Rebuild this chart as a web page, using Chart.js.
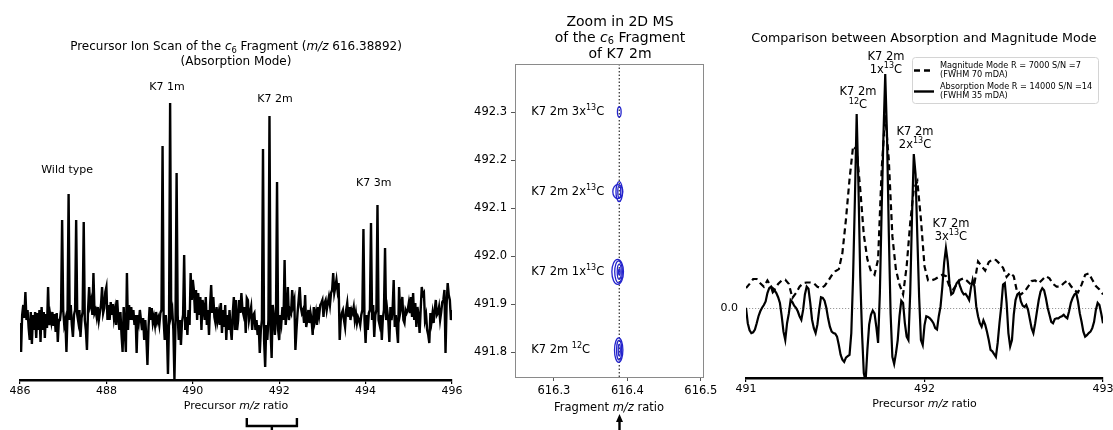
<!DOCTYPE html>
<html><head><meta charset="utf-8">
<script src="https://cdn.jsdelivr.net/npm/chart.js@4.4.1/dist/chart.umd.min.js"></script>
<style>
html,body{margin:0;padding:0;background:#fff;}
#wrap{position:relative;width:1113px;height:430px;overflow:hidden;background:#fff;}
canvas{position:absolute;top:0;}
</style></head><body>
<div id="wrap">
<canvas id="c1" width="465" height="430" style="left:0px;width:465px;height:430px"></canvas>
<canvas id="c3" width="408" height="430" style="left:705px;width:408px;height:430px"></canvas>
<canvas id="c2" width="262" height="430" style="left:465px;width:262px;height:430px"></canvas>
</div>
<script>
const FONT = '"DejaVu Sans", "Liberation Sans", sans-serif';
Chart.defaults.font.family = FONT;
Chart.defaults.color = '#000';

/* ---------- Panel 1: precursor ion scan (absorption mode) ---------- */
const scanStart = 486;
const scanStep = 0.025;
const scanIntensity = [
 5.7,2.8,6.5,7.5,6.2,8.8,6.0,7.0,5.2,4.0,6.8,3.6,6.5,5.0,6.8,4.2,6.7,5.0,7.0,3.8,
 7.3,5.0,6.8,4.2,6.6,5.2,9.3,5.5,6.5,5.8,6.8,5.4,6.6,4.8,6.7,3.8,6.0,6.0,7.0,16.0,
 7.0,5.5,6.0,2.8,6.5,18.6,6.0,7.5,5.5,4.3,6.5,7.0,16.0,6.5,5.8,7.0,4.3,6.2,6.8,15.8,
 6.0,5.0,3.0,7.0,9.3,7.5,8.0,6.5,10.7,6.7,7.0,6.3,7.3,6.0,6.8,7.5,9.3,6.7,7.2,8.8,
 9.3,6.0,7.5,6.0,7.8,6.5,7.6,6.2,7.0,5.5,8.0,6.2,5.0,6.8,4.5,2.8,7.3,5.0,2.8,10.7,
 5.0,7.5,6.0,7.3,6.0,7.0,5.5,6.5,2.7,6.5,5.8,7.0,6.0,5.0,6.2,4.0,6.0,4.3,1.5,5.3,
 7.3,6.0,7.2,5.7,6.3,5.5,6.8,5.8,6.2,5.5,6.7,7.0,23.4,6.0,4.0,6.5,5.0,0.6,6.0,27.7,
 6.5,7.0,5.0,0.0,6.0,20.7,6.5,4.0,6.0,3.5,5.8,6.5,12.5,5.0,6.3,4.5,7.0,5.5,10.7,8.0,
 10.0,9.0,6.7,9.0,6.0,8.7,6.5,8.3,5.0,8.0,7.3,6.0,8.3,5.5,7.0,4.5,7.5,9.5,6.7,8.3,
 6.3,5.7,7.3,6.0,6.7,5.5,7.7,4.7,7.0,5.3,7.5,4.0,6.5,5.0,7.0,5.2,4.0,6.7,8.3,5.0,
 8.0,5.0,6.0,8.0,6.7,8.7,7.0,6.5,7.3,4.7,8.2,8.0,6.0,6.7,7.3,5.0,6.5,6.7,5.0,6.0,
 4.5,5.5,2.7,5.0,6.0,23.1,4.0,1.3,5.5,4.0,6.0,26.4,5.0,2.2,7.5,6.5,4.5,6.0,19.8,5.0,
 4.0,6.5,5.7,7.3,6.0,12.0,5.5,6.8,9.3,6.0,7.0,6.7,9.0,7.5,8.0,3.0,5.0,6.7,8.0,9.3,
 7.3,6.7,7.0,5.7,8.5,5.3,6.0,7.0,5.7,6.7,6.0,4.5,7.3,6.0,6.7,5.5,7.3,6.5,7.5,7.7,
 8.0,6.3,7.7,8.0,7.0,7.7,8.3,7.5,8.7,9.0,10.7,8.7,9.3,10.0,9.0,9.7,4.0,6.0,6.7,7.0,
 6.0,5.3,7.0,7.7,6.3,7.3,6.0,7.0,6.7,7.3,6.0,6.7,5.7,6.3,6.0,5.5,6.5,7.0,15.1,6.0,
 3.7,6.5,5.0,6.7,7.0,15.7,6.0,7.5,4.3,6.5,7.0,17.5,6.0,5.5,6.5,4.0,6.2,7.0,13.2,6.0,
 7.0,6.0,3.8,7.3,6.0,7.0,10.0,5.3,6.5,5.0,3.7,9.3,6.7,7.3,8.3,6.0,5.7,7.0,6.7,7.0,
 7.7,6.7,8.3,6.3,8.7,6.0,7.7,5.3,7.3,6.5,4.7,7.0,9.3,8.5,8.7,6.0,6.5,5.0,4.5,3.7,
 6.7,5.8,6.7,5.7,7.0,8.0,6.5,6.7,7.3,6.0,6.8,7.8,8.0,9.0,2.7,7.5,9.7,8.5,8.0,6.0,7.0
];
const scanPeakNames = ['Wild type', 'K7 1m', 'K7 2m', 'K7 3m'];
const scanPeakNameMz = [487.09, 489.40, 491.90, 494.19];
const scanPeakNameLevel = [21.0, 29.3, 28.1, 19.7];
const zoomWindow = [491.25, 492.41];

/* ---------- Panel 2: 2D MS zoom ---------- */
const fragmentMz = 616.38892;
const isotopeNames = ['3x', '2x', '1x', ''];
const isotopeSup = ['13', '13', '13', '12'];
const isotopePrecursor = [492.300, 492.134, 491.967, 491.804];
const contourMz   = [616.3890, 616.3870, 616.3889, 616.3890, 616.3868, 616.3880, 616.3889, 616.3890, 616.3882, 616.3888, 616.3890];
const contourPrec = [492.300, 492.134, 492.134, 492.134, 491.967, 491.967, 491.967, 491.967, 491.804, 491.804, 491.804];
const contourHalfMz   = [0.0025, 0.0068, 0.0044, 0.0020, 0.0079, 0.0052, 0.0027, 0.0010, 0.0057, 0.0035, 0.0014];
const contourHalfPrec = [0.0104, 0.0146, 0.0208, 0.0125, 0.0260, 0.0229, 0.0156, 0.0063, 0.0256, 0.0208, 0.0125];

/* ---------- Panel 3: absorption vs magnitude ---------- */
const cmpStart = 491;
const absStep = 0.01;
const magStep = 0.02;
const absorptionIntensity = [
 0.00,-0.22,-0.32,-0.36,-0.35,-0.31,-0.22,-0.12,-0.05,0.00,
 0.04,0.09,0.21,0.28,0.30,0.22,0.25,0.21,0.15,0.07,
 -0.12,-0.34,-0.46,-0.22,-0.08,0.11,0.08,0.03,0.00,-0.05,
 -0.12,-0.17,-0.03,0.19,0.30,0.27,0.07,-0.17,-0.29,-0.36,
 -0.24,-0.03,0.15,0.14,0.10,0.00,-0.15,-0.27,-0.34,-0.36,
 -0.37,-0.41,-0.53,-0.67,-0.74,-0.77,-0.71,-0.69,-0.67,-0.36,
 0.45,1.54,2.76,1.73,0.45,-0.36,-0.93,-1.05,-0.60,-0.24,
 -0.10,-0.04,-0.08,-0.27,-0.50,0.21,1.40,2.45,3.33,2.45,
 1.07,-0.08,-0.70,-0.80,-0.65,-0.46,-0.12,0.10,0.07,-0.22,
 -0.41,-0.46,0.21,1.30,2.19,1.90,1.00,0.15,-0.46,-0.53,
 -0.25,-0.12,-0.13,-0.15,-0.18,-0.22,-0.29,-0.31,-0.12,0.02,
 0.30,0.64,0.85,0.66,0.35,0.19,0.21,0.28,0.35,0.38,
 0.30,0.23,0.19,0.20,0.16,0.11,0.28,0.40,0.30,0.02,
 -0.12,-0.22,-0.27,-0.18,-0.24,-0.34,-0.46,-0.60,-0.62,-0.66,
 -0.70,-0.50,-0.22,0.02,0.33,0.35,0.07,-0.36,-0.55,-0.46,
 -0.10,0.11,0.19,0.21,0.09,0.03,0.01,0.04,-0.03,-0.16,
 -0.29,-0.36,-0.22,-0.05,0.11,0.23,0.28,0.25,0.14,0.00,
 -0.10,-0.20,-0.22,-0.16,-0.15,-0.15,-0.13,-0.12,-0.10,-0.13,
 -0.15,-0.05,0.07,0.14,0.19,0.21,0.09,-0.08,-0.20,-0.34,
 -0.41,-0.39,-0.36,-0.34,-0.29,-0.20,-0.03,0.07,0.04,-0.08,-0.22
];
const magnitudeIntensity = [
 0.28,0.34,0.41,0.41,0.35,0.30,0.39,0.30,0.26,0.34,
 0.39,0.40,0.34,0.14,0.21,0.30,0.35,0.36,0.36,0.35,
 0.30,0.28,0.31,0.38,0.46,0.52,0.55,0.78,1.26,1.83,
 2.30,2.25,1.69,1.04,0.69,0.52,0.47,0.69,1.97,2.74,
 2.11,1.02,0.54,0.33,0.19,0.59,1.21,1.69,1.80,1.26,
 0.59,0.39,0.39,0.41,0.44,0.47,0.45,0.30,0.26,0.33,
 0.40,0.42,0.38,0.33,0.35,0.66,0.59,0.53,0.65,0.69,
 0.68,0.63,0.57,0.44,0.50,0.45,0.21,0.19,0.23,0.30,
 0.38,0.39,0.35,0.40,0.45,0.42,0.34,0.30,0.30,0.35,
 0.39,0.31,0.25,0.22,0.33,0.47,0.49,0.40,0.31,0.26,0.19
];
const cmpPeakLine2 = [['12', 'C'], ['1x', '13', 'C'], ['2x', '13', 'C'], ['3x', '13', 'C']];
const cmpPeakMz = [491.627, 491.784, 491.947, 492.148];
const cmpPeakLevel = [3.07, 3.57, 2.51, 1.20];
const legendTitles = ['Magnitude Mode R = 7000 S/N =7', 'Absorption Mode R = 14000 S/N =14'];
const legendSubs = ['(FWHM 70 mDA)', '(FWHM 35 mDA)'];

/* ---------- helpers ---------- */
function fontFor(s, size) {
  const sz = (s === 'sub' || s === 'sup') ? size * 0.7 : size;
  return (s === 'i' ? 'italic ' : '') + sz + 'px ' + FONT;
}
function drawRich(ctx, parts, x, y, size, align) {
  align = align || 'center';
  let w = 0;
  for (const [t, s] of parts) { ctx.font = fontFor(s, size); w += ctx.measureText(t).width; }
  let cx = align === 'center' ? x - w / 2 : (align === 'right' ? x - w : x);
  ctx.textBaseline = 'middle'; ctx.textAlign = 'left'; ctx.fillStyle = '#000';
  for (const [t, s] of parts) {
    ctx.font = fontFor(s, size);
    const dy = s === 'sub' ? size * 0.28 : (s === 'sup' ? -size * 0.33 : 0);
    ctx.fillText(t, cx, y + dy);
    cx += ctx.measureText(t).width;
  }
}
function fixX(h) { return s => { s.height = h; s.paddingLeft = 0; s.paddingRight = 0; }; }
function fixY(w) { return s => { s.width = w; s.paddingTop = 0; s.paddingBottom = 0; }; }
const tickFont = (sz) => ({ size: sz, family: FONT });

/* ---------- Chart 1 ---------- */
const deco1 = {
  id: 'deco1',
  afterDraw(chart) {
    const ctx = chart.ctx, xs = chart.scales.x, ys = chart.scales.y;
    ctx.save();
    drawRich(ctx, [['Precursor Ion Scan of the ', ''], ['c', 'i'], ['6', 'sub'], [' Fragment (', ''], ['m/z', 'i'], [' 616.38892)', '']], 236, 47, 12);
    drawRich(ctx, [['(Absorption Mode)', '']], 236, 62, 12);
    for (let i = 0; i < scanPeakNames.length; i++) {
      drawRich(ctx, [[scanPeakNames[i], '']], xs.getPixelForValue(scanPeakNameMz[i]), ys.getPixelForValue(scanPeakNameLevel[i]), 11);
    }
    drawRich(ctx, [['Precursor ', ''], ['m/z', 'i'], [' ratio', '']], (xs.left + xs.right) / 2, 406, 11);
    // bracket marking the zoom window
    const a = xs.getPixelForValue(zoomWindow[0]), b = xs.getPixelForValue(zoomWindow[1]);
    ctx.strokeStyle = '#000'; ctx.lineWidth = 2.4;
    ctx.beginPath();
    ctx.moveTo(a, 418); ctx.lineTo(a, 426); ctx.lineTo(b, 426); ctx.lineTo(b, 418);
    ctx.moveTo((a + b) / 2, 426); ctx.lineTo((a + b) / 2, 431);
    ctx.stroke();
    ctx.restore();
  }
};
new Chart(document.getElementById('c1'), {
  type: 'line',
  data: { datasets: [{
    data: scanIntensity.map((v, i) => ({ x: scanStart + i * scanStep, y: v })),
    borderColor: '#000', borderWidth: 2.4, pointRadius: 0, tension: 0, fill: false
  }] },
  options: {
    animation: false, responsive: false,
    layout: { padding: { left: 20, right: 13, top: 80, bottom: 0 } },
    plugins: { legend: { display: false }, tooltip: { enabled: false } },
    scales: {
      x: { type: 'linear', min: 486, max: 496,
        ticks: { stepSize: 2, color: '#000', font: tickFont(11), maxRotation: 0, autoSkip: false, padding: 1, includeBounds: false },
        grid: { drawOnChartArea: false, drawTicks: true, tickLength: 4, color: '#000', lineWidth: 1.2 },
        border: { color: '#000', width: 2.4 },
        afterFit: fixX(50) },
      y: { display: false, min: 0, max: 30 }
    }
  },
  plugins: [deco1]
});

/* ---------- Chart 2 ---------- */
const deco2 = {
  id: 'deco2',
  afterDatasetsDraw(chart) {
    const ctx = chart.ctx, xs = chart.scales.x, ys = chart.scales.y, ca = chart.chartArea;
    ctx.save();
    ctx.beginPath(); ctx.rect(ca.left, ca.top, ca.right - ca.left, ca.bottom - ca.top); ctx.clip();
    ctx.strokeStyle = '#2323cc'; ctx.lineWidth = 1.3;
    for (let i = 0; i < contourMz.length; i++) {
      const cx = xs.getPixelForValue(contourMz[i]), cy = ys.getPixelForValue(contourPrec[i]);
      const rx = Math.abs(xs.getPixelForValue(contourMz[i] + contourHalfMz[i]) - cx);
      const ry = Math.abs(ys.getPixelForValue(contourPrec[i] + contourHalfPrec[i]) - cy);
      ctx.beginPath(); ctx.ellipse(cx, cy, rx, ry, 0, 0, 2 * Math.PI); ctx.stroke();
    }
    ctx.restore();
  },
  afterDraw(chart) {
    const ctx = chart.ctx, xs = chart.scales.x, ys = chart.scales.y, ca = chart.chartArea;
    ctx.save();
    ctx.strokeStyle = '#8a8a8a'; ctx.lineWidth = 1;
    ctx.strokeRect(Math.round(ca.left) + 0.5, Math.round(ca.top) + 0.5, Math.round(ca.right - ca.left), Math.round(ca.bottom - ca.top));
    drawRich(ctx, [['Zoom in 2D MS', '']], 155, 22, 14);
    drawRich(ctx, [['of the ', ''], ['c', 'i'], ['6', 'sub'], [' Fragment', '']], 155, 38, 14);
    drawRich(ctx, [['of K7 2m', '']], 155, 54, 14);
    for (let i = 0; i < isotopeNames.length; i++) {
      drawRich(ctx, [['K7 2m ' + isotopeNames[i], ''], [isotopeSup[i], 'sup'], ['C', '']], xs.getPixelForValue(616.269), ys.getPixelForValue(isotopePrecursor[i]), 11.5, 'left');
    }
    drawRich(ctx, [['Fragment ', ''], ['m/z', 'i'], [' ratio', '']], (ca.left + ca.right) / 2, 408, 11.5);
    // arrow marking the fragment m/z
    const ax = Math.round(xs.getPixelForValue(fragmentMz)) + 0.5;
    ctx.strokeStyle = '#000'; ctx.fillStyle = '#000'; ctx.lineWidth = 2.4;
    ctx.beginPath(); ctx.moveTo(ax, 430); ctx.lineTo(ax, 420); ctx.stroke();
    ctx.beginPath(); ctx.moveTo(ax, 414); ctx.lineTo(ax - 3.5, 422); ctx.lineTo(ax + 3.5, 422); ctx.closePath(); ctx.fill();
    ctx.restore();
  }
};
new Chart(document.getElementById('c2'), {
  type: 'scatter',
  data: { datasets: [{
    data: [{ x: fragmentMz, y: 491.748 }, { x: fragmentMz, y: 492.4 }],
    showLine: true, borderColor: '#000', borderWidth: 1, borderDash: [1.5, 2], pointRadius: 0
  }] },
  options: {
    animation: false, responsive: false,
    layout: { padding: { left: 0, right: 24, top: 64, bottom: 0 } },
    plugins: { legend: { display: false }, tooltip: { enabled: false } },
    scales: {
      x: { type: 'linear', min: 616.247, max: 616.503,
        ticks: { stepSize: 0.1, includeBounds: false, color: '#000', font: tickFont(11.5), maxRotation: 0, autoSkip: false, padding: 3,
          callback: v => Number(v).toFixed(1) },
        grid: { drawOnChartArea: false, drawTicks: true, tickLength: 4, color: '#555' },
        border: { color: '#8a8a8a', width: 1 },
        afterFit: fixX(53) },
      y: { type: 'linear', min: 491.748, max: 492.4,
        ticks: { stepSize: 0.1, includeBounds: false, color: '#000', font: tickFont(11.5), padding: 4,
          callback: v => Number(v).toFixed(1) },
        grid: { drawOnChartArea: false, drawTicks: true, tickLength: 4, color: '#555' },
        border: { color: '#8a8a8a', width: 1 },
        afterFit: fixY(50) }
    }
  },
  plugins: [deco2]
});

/* ---------- Chart 3 ---------- */
const deco3 = {
  id: 'deco3',
  beforeDatasetsDraw(chart) {
    const ctx = chart.ctx, ys = chart.scales.y, ca = chart.chartArea;
    const y0 = Math.round(ys.getPixelForValue(0)) + 0.5;
    ctx.save();
    ctx.strokeStyle = '#9a9a9a'; ctx.lineWidth = 1; ctx.setLineDash([1.2, 1.8]);
    ctx.beginPath(); ctx.moveTo(ca.left, y0); ctx.lineTo(ca.right, y0); ctx.stroke();
    ctx.restore();
  },
  afterDraw(chart) {
    const ctx = chart.ctx, xs = chart.scales.x, ys = chart.scales.y, ca = chart.chartArea;
    ctx.save();
    drawRich(ctx, [['Comparison between Absorption and Magnitude Mode', '']], 219, 39, 12.7);
    for (let i = 0; i < cmpPeakMz.length; i++) {
      const px = xs.getPixelForValue(cmpPeakMz[i]), py = ys.getPixelForValue(cmpPeakLevel[i]);
      drawRich(ctx, [['K7 2m', '']], px, py, 11.5);
      const l2 = cmpPeakLine2[i];
      const parts = l2.length === 2 ? [[l2[0], 'sup'], [l2[1], '']] : [[l2[0], ''], [l2[1], 'sup'], [l2[2], '']];
      drawRich(ctx, parts, px, py + 13, 11.5);
    }
    drawRich(ctx, [['Precursor ', ''], ['m/z', 'i'], [' ratio', '']], (ca.left + ca.right) / 2, 404, 11);
    // legend
    const lx = 207, ly = 57, lw = 186, lh = 46;
    ctx.fillStyle = 'rgba(255,255,255,0.85)'; ctx.strokeStyle = '#d4d4d4'; ctx.lineWidth = 1;
    ctx.beginPath();
    if (ctx.roundRect) ctx.roundRect(lx + 0.5, ly + 0.5, lw, lh, 3); else ctx.rect(lx + 0.5, ly + 0.5, lw, lh);
    ctx.fill(); ctx.stroke();
    const ds = chart.data.datasets;
    const rows = [[ds[0], 70.5, 66, 75], [ds[1], 91.5, 87, 96]];
    rows.forEach((r, i) => {
      ctx.strokeStyle = '#000'; ctx.lineWidth = 2.4; ctx.setLineDash(r[0].borderDash || []);
      ctx.beginPath(); ctx.moveTo(lx + 2, r[1]); ctx.lineTo(lx + 22, r[1]); ctx.stroke();
      ctx.setLineDash([]);
      drawRich(ctx, [[legendTitles[i], '']], lx + 28, r[2], 8.2, 'left');
      drawRich(ctx, [[legendSubs[i], '']], lx + 28, r[3], 8.2, 'left');
    });
    ctx.restore();
  }
};
new Chart(document.getElementById('c3'), {
  type: 'line',
  data: { datasets: [
    { label: 'Magnitude', data: magnitudeIntensity.map((v, i) => ({ x: cmpStart + i * magStep, y: v })),
      borderColor: '#000', borderWidth: 2.2, borderDash: [6, 4], pointRadius: 0, tension: 0, fill: false },
    { label: 'Absorption', data: absorptionIntensity.map((v, i) => ({ x: cmpStart + i * absStep, y: v })),
      borderColor: '#000', borderWidth: 2.2, pointRadius: 0, tension: 0, fill: false }
  ] },
  options: {
    animation: false, responsive: false,
    layout: { padding: { left: 0, right: 10, top: 55, bottom: 0 } },
    plugins: { legend: { display: false }, tooltip: { enabled: false } },
    scales: {
      x: { type: 'linear', min: 491, max: 493,
        ticks: { stepSize: 1, color: '#000', font: tickFont(11), maxRotation: 0, autoSkip: false, padding: 1 },
        grid: { drawOnChartArea: false, drawTicks: true, tickLength: 4, color: '#000', lineWidth: 1.2 },
        border: { color: '#000', width: 2.4 },
        afterFit: fixX(52) },
      y: { type: 'linear', min: -1, max: 3.6,
        afterBuildTicks: s => { s.ticks = [{ value: 0 }]; },
        ticks: { color: '#000', font: tickFont(11), padding: 8, callback: v => Number(v).toFixed(1) },
        grid: { display: false, drawTicks: false },
        border: { display: false },
        afterFit: fixY(41) }
    }
  },
  plugins: [deco3]
});
</script>
</body></html>
